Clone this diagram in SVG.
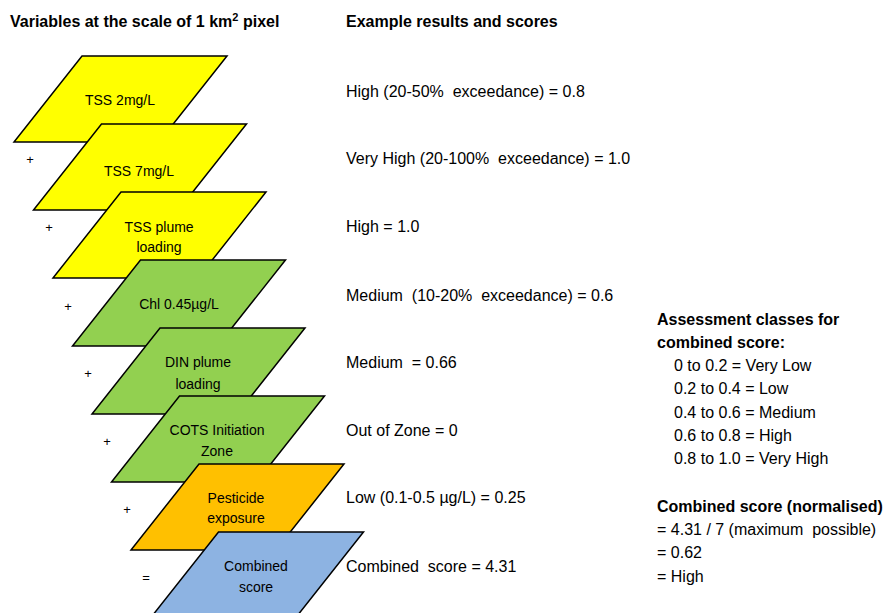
<svg xmlns="http://www.w3.org/2000/svg" width="886" height="613" viewBox="0 0 886 613">
<style>
text{font-family:"Liberation Sans",Arial,sans-serif;fill:#000}
.h{font-size:16px;font-weight:bold}
.t{font-size:16px}
.l{font-size:14px;text-anchor:middle}
.op{font-size:13px;text-anchor:middle}
.p{stroke:#000;stroke-width:1.5;stroke-linejoin:miter}
.y{fill:#FFFF00}.g{fill:#92D050}.o{fill:#FFC000}.b{fill:#8DB3E2}
</style>
<rect width="886" height="613" fill="#fff"/>
<text class="h" x="10" y="27">Variables at the scale of 1 km<tspan font-size="11" dy="-6">2</tspan><tspan dy="6"> pixel</tspan></text>
<text class="h" x="346" y="27">Example results and scores</text>

<g id="layer-tss2">
<polygon class="p y" points="82,56 227,56 159,142 14,142"/>
<text class="l" x="120" y="105">TSS 2mg/L</text>
</g>
<g id="layer-tss7">
<polygon class="p y" points="101.5,124 246.5,124 178.5,210 33.5,210"/>
<text class="l" x="139" y="176">TSS 7mg/L</text>
</g>
<g id="layer-tssplume">
<polygon class="p y" points="121,192 266,192 198,278 53,278"/>
<text class="l" x="159" y="232">TSS plume</text>
<text class="l" x="159" y="252">loading</text>
</g>
<g id="layer-chl">
<polygon class="p g" points="140.5,260 285.5,260 217.5,346 72.5,346"/>
<text class="l" x="179" y="309">Chl 0.45µg/L</text>
</g>
<g id="layer-din">
<polygon class="p g" points="160,328 305,328 237,414 92,414"/>
<text class="l" x="198" y="367">DIN plume</text>
<text class="l" x="198" y="389">loading</text>
</g>
<g id="layer-cots">
<polygon class="p g" points="179.5,396 324.5,396 256.5,482 111.5,482"/>
<text class="l" x="217" y="435">COTS Initiation</text>
<text class="l" x="217" y="456">Zone</text>
</g>
<g id="layer-pesticide">
<polygon class="p o" points="199,464 344,464 276,550 131,550"/>
<text class="l" x="236" y="503">Pesticide</text>
<text class="l" x="236" y="523">exposure</text>
</g>
<g id="layer-combined">
<polygon class="p b" points="218.5,532 363.5,532 295.5,618 150.5,618"/>
<text class="l" x="256" y="571">Combined</text>
<text class="l" x="256" y="592">score</text>
</g>

<g id="operators">
<text class="op" x="30" y="164">+</text>
<text class="op" x="49" y="232">+</text>
<text class="op" x="68" y="311">+</text>
<text class="op" x="88" y="378">+</text>
<text class="op" x="107" y="446">+</text>
<text class="op" x="127" y="514">+</text>
<text class="op" x="146" y="582">=</text>
</g>

<g id="results">
<text class="t" x="346" y="97" xml:space="preserve">High (20-50%  exceedance) = 0.8</text>
<text class="t" x="346" y="164" xml:space="preserve">Very High (20-100%  exceedance) = 1.0</text>
<text class="t" x="346" y="232">High = 1.0</text>
<text class="t" x="346" y="301" xml:space="preserve">Medium  (10-20%  exceedance) = 0.6</text>
<text class="t" x="346" y="368" xml:space="preserve">Medium  = 0.66</text>
<text class="t" x="346" y="436">Out of Zone = 0</text>
<text class="t" x="346" y="503">Low (0.1-0.5 µg/L) = 0.25</text>
<text class="t" x="346" y="572" xml:space="preserve">Combined  score = 4.31</text>
</g>

<g id="assessment">
<text class="h" x="657" y="325">Assessment classes for</text>
<text class="h" x="657" y="348">combined score:</text>
<text class="t" x="674" y="371">0 to 0.2 = Very Low</text>
<text class="t" x="674" y="394">0.2 to 0.4 = Low</text>
<text class="t" x="674" y="418">0.4 to 0.6 = Medium</text>
<text class="t" x="674" y="441">0.6 to 0.8 = High</text>
<text class="t" x="674" y="464">0.8 to 1.0 = Very High</text>
<text class="h" x="657" y="512">Combined score (normalised)</text>
<text class="t" x="657" y="535" xml:space="preserve">= 4.31 / 7 (maximum  possible)</text>
<text class="t" x="657" y="558">= 0.62</text>
<text class="t" x="657" y="582">= High</text>
</g>
</svg>
